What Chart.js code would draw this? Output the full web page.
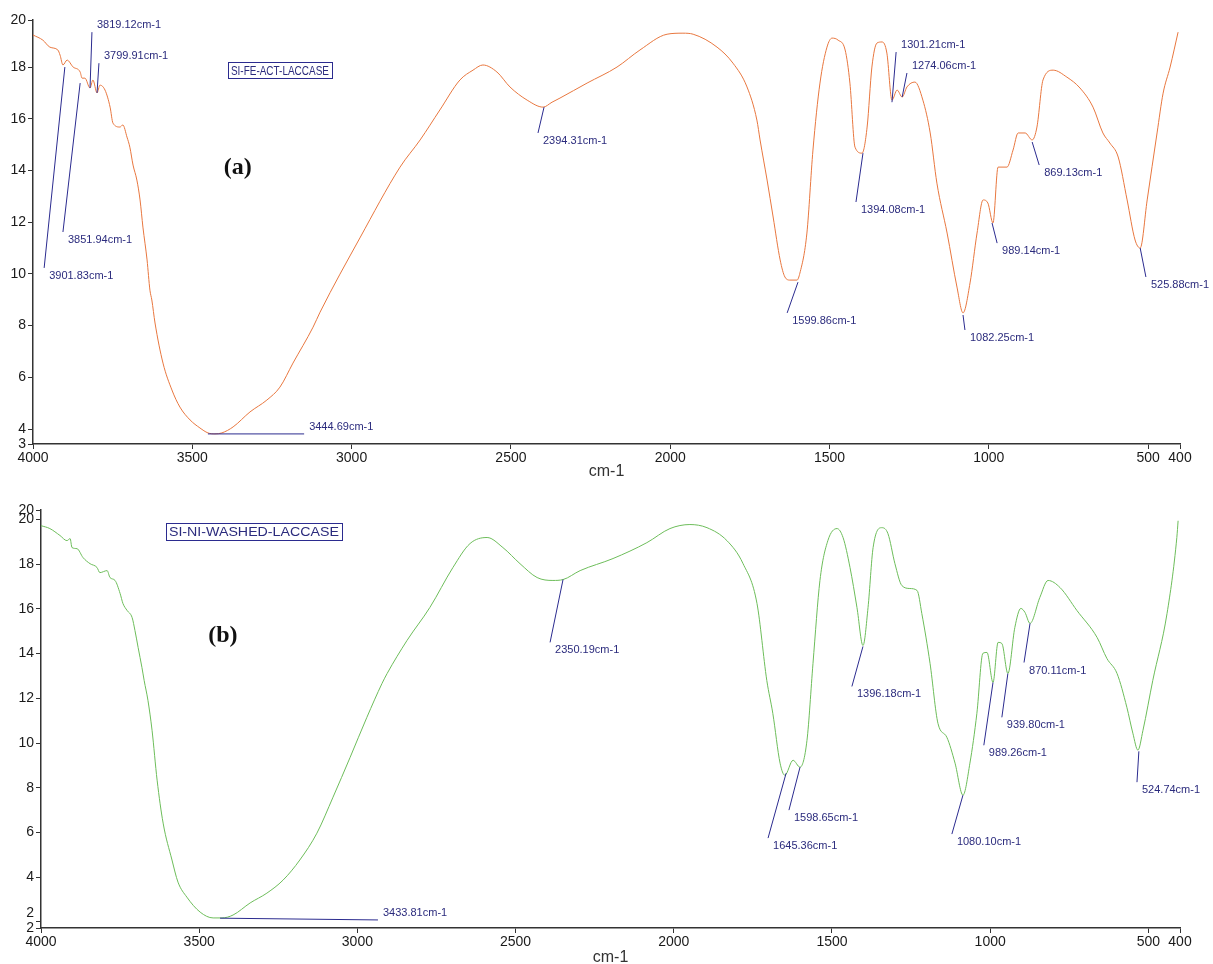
<!DOCTYPE html>
<html>
<head>
<meta charset="utf-8">
<title>FTIR spectra</title>
<script src="https://cdn.jsdelivr.net/npm/chart.js@4.4.1/dist/chart.umd.min.js"></script>
<style>
  body { margin: 0; background: #fff; }
  #wrap { position: relative; width: 1213px; height: 964px; overflow: hidden; }
  .panel { position: absolute; left: 0; width: 1213px; height: 482px; }
</style>
</head>
<body>
<div id="wrap">
  <div class="panel" style="top:0"><canvas id="chartA"></canvas></div>
  <div class="panel" style="top:482px"><canvas id="chartB"></canvas></div>
</div>
<script>
// ---- shared axis data ----
const xTicks = [4000, 3500, 3000, 2500, 2000, 1500, 1000, 500, 400];

// ---- spectrum (a) SI-FE-ACT-LACCASE ----
const wnA = [4000,3969,3947,3922,3915,3906,3893,3874,3852,3846,3837,3821,3812,3799,3790,3774,3758,3749,3727,3718,
  3705,3696,3686,3674,3664,3655,3642,3633,3627,3617,3592,3564,3539,3507,3476,3451,3429,3407,3372,3319,
  3266,3225,3184,3121,3099,2974,2848,2785,2723,2660,2619,2588,2544,2503,2449,2399,2371,2346,2261,2167,
  2095,2010,1960,1928,1853,1803,1759,1728,1718,1696,1677,1655,1640,1624,1602,1593,1571,1552,1530,1508,
  1492,1473,1451,1436,1420,1398,1382,1367,1351,1335,1320,1304,1288,1272,1257,1232,1207,1184,1163,1131,
  1100,1081,1059,1037,1018,1003,987,971,943,924,908,886,864,849,830,798,755,714,673,642,
  620,594,566,541,525,503,472,453,431,406];
const transA = [19.24,19.04,18.77,18.66,18.46,18.08,18.27,18.0,17.81,17.57,17.57,17.19,17.50,17.0,17.30,17.11,16.45,15.83,15.68,15.76,
  15.29,14.90,14.21,13.63,12.86,11.81,10.54,9.37,8.99,8.10,6.55,5.51,4.85,4.35,4.04,3.85,3.81,3.85,4.08,4.66,
  5.12,5.62,6.55,7.94,8.52,11.39,14.13,15.18,16.34,17.50,17.88,18.08,17.81,17.23,16.72,16.45,16.64,16.80,17.38,18.0,
  18.66,19.27,19.31,19.27,18.77,18.15,17.23,15.95,15.18,13.63,12.2,10.54,9.88,9.76,9.76,10.03,11.58,14.79,17.38,18.77,
  19.12,19.04,18.66,17.38,14.90,14.67,15.68,18.0,18.93,18.97,18.54,16.72,17.11,16.84,17.23,17.42,16.72,15.45,13.51,11.58,
  9.49,8.49,9.65,11.58,12.86,12.74,11.97,14.13,14.13,14.79,15.45,15.45,15.18,15.68,17.50,17.88,17.61,17.19,16.45,15.45,
  15.06,14.52,12.86,11.31,11.0,12.86,15.45,16.99,18.0,19.35];
const yRangeA = [3.42, 19.82];
const yTicksA = [4, 6, 8, 10, 12, 14, 16, 18];

// peak markers: label, point on the curve, end of the leader line
const peakTextA = ['3901.83cm-1','3851.94cm-1','3819.12cm-1','3799.91cm-1','3444.69cm-1','2394.31cm-1','1599.86cm-1',
  '1394.08cm-1','1301.21cm-1','1274.06cm-1','1082.25cm-1','989.14cm-1','869.13cm-1','525.88cm-1'];
const peakWnA  = [3900, 3852, 3821, 3799, 3451, 2396, 1599, 1395, 1304, 1272, 1081, 990, 864, 525];
const peakTA   = [18.0, 17.38, 17.19, 17.0, 3.81, 16.45, 9.68, 14.67, 16.64, 16.84, 8.41, 11.97, 15.10, 11.0];
const tagWnA   = [3965, 3906, 3815, 3793, 3149, 2415, 1633, 1417, 1291, 1257, 1075, 974, 842, 507];
const tagTA    = [10.23, 11.62, 19.35, 18.15, 3.81, 15.45, 8.49, 12.78, 18.58, 17.77, 7.83, 11.19, 14.21, 9.88];
const tagSideA = ['down','down','up','up','up','down','down','down','up','up','down','down','down','down'];

// ---- spectrum (b) SI-NI-WASHED-LACCASE ----
const wnB = [4000,3972,3940,3918,3908,3902,3886,3867,3845,3823,3814,3791,3782,3766,3750,3741,3728,3712,3703,3693,
  3681,3674,3662,3649,3633,3614,3586,3567,3539,3497,3456,3428,3393,3339,3286,3235,3182,3128,3077,3023,
  2970,2922,2906,2843,2771,2698,2644,2590,2540,2486,2432,2382,2350,2296,2192,2085,2012,1949,1895,1832,
  1781,1737,1706,1687,1664,1649,1623,1601,1579,1560,1538,1513,1484,1465,1443,1421,1402,1386,1370,1342,
  1323,1301,1279,1254,1231,1216,1190,1165,1137,1111,1086,1064,1042,1023,1010,991,975,963,944,922,
  903,890,874,843,817,779,726,662,631,599,568,549,533,517,486,441,410,406];
const transB = [19.72,19.59,19.28,19.05,19.14,18.74,18.69,18.29,18.02,17.85,17.62,17.71,17.40,17.27,16.69,16.24,15.93,15.61,15.03,14.27,
  13.38,12.80,11.91,10.57,8.34,6.42,4.77,3.78,3.11,2.44,2.18,2.18,2.31,2.85,3.29,3.87,4.77,5.97,7.58,9.36,
  11.15,12.67,13.11,14.59,16.06,17.85,18.92,19.19,18.74,18.02,17.40,17.27,17.31,17.71,18.25,18.96,19.59,19.77,19.63,19.05,
  18.02,16.24,12.80,11.33,9.10,8.56,9.23,8.92,10.12,13.56,17.27,19.05,19.59,19.19,17.85,16.06,14.36,16.06,18.74,19.63,
  19.36,18.02,17.04,16.91,16.82,15.79,13.56,10.88,10.26,9.10,7.67,9.10,11.33,14.01,14.05,12.71,14.50,14.45,13.11,15.17,
  16.02,15.84,15.35,16.51,17.27,16.95,15.93,14.72,13.78,13.11,11.60,10.44,9.68,10.57,12.80,15.79,19.19,19.94];
const yRangeB = [1.73, 20.42];
const yTicksB = [2, 4, 6, 8, 10, 12, 14, 16, 18, 20];

const peakTextB = ['3433.81cm-1','2350.19cm-1','1645.36cm-1','1598.65cm-1','1396.18cm-1','1080.10cm-1',
  '989.26cm-1','939.80cm-1','870.11cm-1','524.74cm-1'];
const peakWnB  = [3434, 2350, 1645, 1601, 1402, 1086, 991, 944, 874, 530];
const peakTB   = [2.17, 17.31, 8.65, 8.92, 14.32, 7.67, 12.71, 13.11, 15.35, 9.63];
const tagWnB   = [2935, 2391, 1702, 1636, 1437, 1121, 1020, 963, 893, 536];
const tagTB    = [2.09, 14.50, 5.75, 7.0, 12.53, 5.93, 9.90, 11.15, 13.6, 8.25];
const tagSideB = ['up','down','down','down','down','down','down','down','down','down'];

const sampleNames = ['SI-FE-ACT-LACCASE', 'SI-NI-WASHED-LACCASE'];
const panelTags = ['(a)', '(b)'];

Chart.defaults.font.family = '"Liberation Sans", Arial, sans-serif';
Chart.defaults.font.size = 14;
Chart.defaults.color = '#1a1a1a';

// Draws peak leaders, the sample name box and the panel tag
const spectrumNotes = {
  id: 'spectrumNotes',
  afterDatasetsDraw(chart, args, opts) {
    const ctx = chart.ctx;
    const x = chart.scales.x;
    const y = chart.scales.y;
    ctx.save();
    ctx.strokeStyle = '#2b2b8f';
    ctx.fillStyle = '#2b2b7d';
    ctx.lineWidth = 1;
    ctx.font = '11px "Liberation Sans", Arial, sans-serif';
    ctx.textBaseline = 'middle';
    ctx.textAlign = 'left';
    opts.text.forEach((t, i) => {
      const x0 = x.getPixelForValue(opts.peakWn[i]);
      const y0 = y.getPixelForValue(opts.peakT[i]);
      const x1 = x.getPixelForValue(opts.tagWn[i]);
      const y1 = y.getPixelForValue(opts.tagT[i]);
      ctx.beginPath();
      ctx.moveTo(x0, y0);
      ctx.lineTo(x1, y1);
      ctx.stroke();
      ctx.fillText(t, x1 + 5, y1 + (opts.side[i] === 'up' ? -7 : 8));
    });

    // sample name in a box
    const bx = x.getPixelForValue(opts.nameAt[0]);
    const by = y.getPixelForValue(opts.nameAt[1]);
    const w = opts.boxW, h = opts.boxH;
    ctx.fillStyle = '#fff';
    ctx.fillRect(bx - w / 2, by - h / 2, w, h);
    ctx.strokeRect(Math.round(bx - w / 2) + 0.5, Math.round(by - h / 2) + 0.5, w, h);
    ctx.fillStyle = '#2b2b7d';
    ctx.font = '13px "Liberation Sans", Arial, sans-serif';
    ctx.textAlign = 'center';
    const tw = ctx.measureText(opts.name).width;
    ctx.translate(bx, by + 1);
    ctx.scale((w - 6) / tw, 1);
    ctx.fillText(opts.name, 0, 0);
    ctx.setTransform(1, 0, 0, 1, 0, 0);

    // panel tag (a) / (b)
    ctx.font = 'bold 24px "Liberation Serif", "Times New Roman", serif';
    ctx.fillStyle = '#111';
    ctx.fillText(opts.tag, x.getPixelForValue(opts.tagAt[0]), y.getPixelForValue(opts.tagAt[1]));
    ctx.restore();
  }
};

function makeSpectrum(canvasId, wn, trans, color, yRange, yTicks, notes, box, yWidth, xHeight, padTop, titlePad) {
  const points = wn.map((v, i) => ({ x: v, y: trans[i] }));
  return new Chart(document.getElementById(canvasId), {
    type: 'scatter',
    data: {
      datasets: [{
        data: points,
        showLine: true,
        borderColor: color,
        borderWidth: 1,
        pointRadius: 0,
        cubicInterpolationMode: 'monotone'
      }]
    },
    plugins: [spectrumNotes],
    options: {
      responsive: true,
      maintainAspectRatio: false,
      animation: false,
      events: [],
      layout: { padding: { top: padTop, right: 33, left: 0, bottom: 0 } },
      plugins: {
        legend: { display: false },
        tooltip: { enabled: false },
        spectrumNotes: Object.assign({}, notes, box)
      },
      scales: {
        x: {
          type: 'linear',
          reverse: true,
          min: 400,
          max: 4000,
          afterBuildTicks: (scale) => { scale.ticks = xTicks.map(v => ({ value: v })); },
          afterFit: (scale) => { scale.height = xHeight; },
          ticks: { autoSkip: false, maxRotation: 0, padding: 1, callback: (v) => String(v) },
          grid: { drawOnChartArea: false, tickLength: 5, color: '#333' },
          border: { display: true, color: '#333', width: 1.5 },
          title: { display: true, text: 'cm-1', font: { size: 16 }, color: '#333', padding: { top: 0, bottom: titlePad } }
        },
        y: {
          min: yRange[0],
          max: yRange[1],
          afterBuildTicks: (scale) => {
            scale.ticks = [yRange[0]].concat(yTicks, [yRange[1]]).map(v => ({ value: v }));
          },
          afterFit: (scale) => { scale.width = yWidth; },
          ticks: {
            autoSkip: false,
            padding: 2,
            callback: (v) => {
              const s = String(Math.round(v));
              // lift the lowest round tick clear of the axis-minimum label
              return (v === yTicks[0] && v - yRange[0] < 0.5) ? [s, ''] : s;
            }
          },
          grid: { drawOnChartArea: false, tickLength: 5, color: '#333' },
          border: { display: true, color: '#333', width: 1.5 }
        }
      }
    }
  });
}

makeSpectrum('chartA', wnA, transA, '#e8773f', yRangeA, yTicksA,
  { text: peakTextA, peakWn: peakWnA, peakT: peakTA, tagWn: tagWnA, tagT: tagTA, side: tagSideA },
  { name: sampleNames[0], nameAt: [3225, 17.88], boxW: 104, boxH: 16, tag: panelTags[0], tagAt: [3357, 14.09] },
  33, 38, 20, 1);

makeSpectrum('chartB', wnB, transB, '#6dbd5a', yRangeB, yTicksB,
  { text: peakTextB, peakWn: peakWnB, peakT: peakTB, tagWn: tagWnB, tagT: tagTB, side: tagSideB },
  { name: sampleNames[1], nameAt: [3327, 19.48], boxW: 176, boxH: 17, tag: panelTags[1], tagAt: [3425, 14.81] },
  41, 36, 28, -3);
</script>
</body>
</html>
